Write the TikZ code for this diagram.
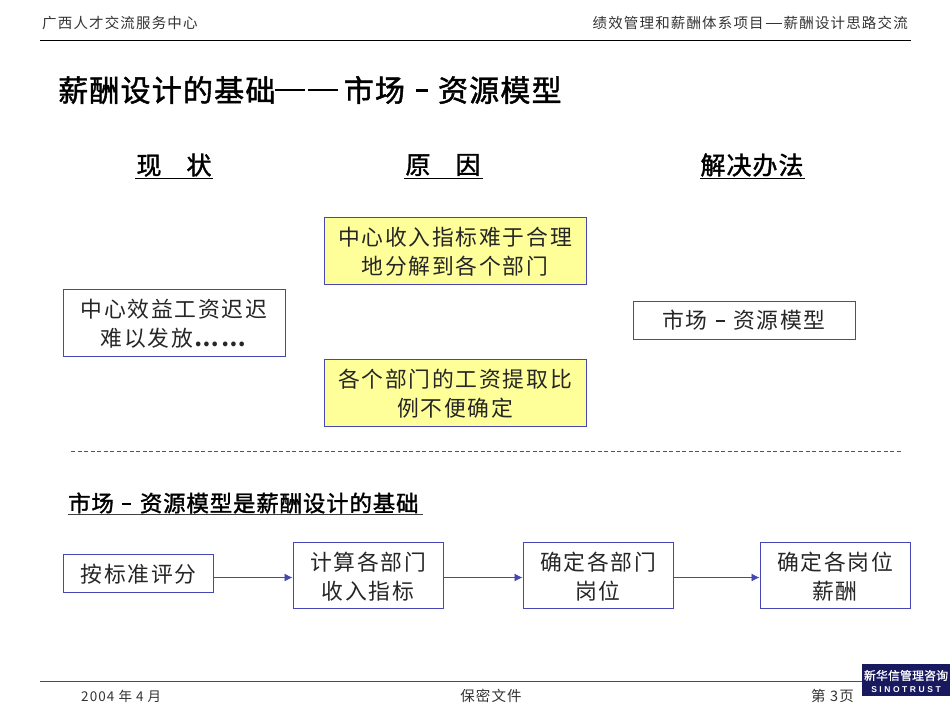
\documentclass[tikz,border=0pt]{standalone}
\usepackage{fontspec}
\setmainfont{Liberation Serif}
\newfontfamily\cjk[LetterSpace=8]{Noto Sans CJK SC}
\newfontfamily\cjkbold[LetterSpace=4,FakeBold=1.5]{Noto Sans CJK SC}
\newfontfamily\logocjk[LetterSpace=2,FakeBold=1]{Noto Sans CJK SC}
\newfontfamily\logolat[LetterSpace=30]{Liberation Sans}
\definecolor{boxblue}{RGB}{70,70,180}
\definecolor{noteyellow}{RGB}{255,255,153}
\definecolor{logonavy}{RGB}{25,25,95}
\usetikzlibrary{arrows.meta}
\newcommand{\midash}{\hspace{.38em}\rule[.30em]{.4em}{.09em}\hspace{.38em}}
\newcommand{\dn}[2]{\raisebox{-#1}[\height][\depth]{#2}}
\tikzset{
  bodybox/.style={draw=boxblue,line width=1pt,align=center,inner sep=0pt,font=\fontsize{21.8}{29}\cjk,text=black!85},
  yellowbox/.style={bodybox,fill=noteyellow},
  plain/.style={inner sep=0pt,font=\fontsize{14.5}{16}\cjk,text=black!80},
  head/.style={inner sep=0pt,font=\fontsize{25}{28}\cjkbold,text=black},
  flow/.style={draw=boxblue,line width=0.9pt,-{Latex[length=8pt,width=8pt]}},
}
\begin{document}
\begin{tikzpicture}[x=1pt,y=-1pt]
\useasboundingbox (0,0) rectangle (950,713);
\node[plain,anchor=west] (hl) at (42,23) {广西人才交流服务中心};
\node[plain,anchor=east] (hr) at (908,23) {绩效管理和薪酬体系项目\hspace{2pt}\rule[.32em]{1.1em}{.06em}\hspace{2pt}薪酬设计思路交流};
\coordinate (tl) at (40,40); \coordinate (tr) at (911,40);
\draw[line width=0.8pt] (tl) -- (tr);
\node[inner sep=0pt,anchor=west,font=\fontsize{30}{34}\cjkbold] (title) at (58,90) {薪酬设计的基础\rule[.34em]{1em}{.09em}\hspace{.1em}\rule[.34em]{1em}{.09em}\hspace{.18em}市场\hspace{.35em}\rule[.30em]{.4em}{.11em}\hspace{.35em}资源模型};
\node[head] (h1) at (174,165) {现\hspace{1em}状};
\node[head] (h2) at (443,165) {原\hspace{1em}因};
\node[head] (h3) at (752,165) {解决办法};
\draw[line width=0.9pt] (135,178) -- (213,178) (404,178) -- (483,178) (700,178) -- (805,178);
\node[yellowbox,minimum width=262,minimum height=67] (b1) at (455,251) {\dn{1pt}{中心收入指标难于合理}\\\dn{1pt}{地分解到各个部门}};
\node[yellowbox,minimum width=262,minimum height=67] (b2) at (455,393) {\dn{1pt}{各个部门的工资提取比}\\\dn{1pt}{例不便确定}};
\node[bodybox,minimum width=222,minimum height=67] (a) at (174,323) {\dn{1pt}{中心效益工资迟迟}\\\dn{1pt}{难以发放\textbf{……}}};
\node[bodybox,minimum width=222,minimum height=38] (c) at (744,320) {市场\midash 资源模型};
\coordinate (dl) at (71,451); \coordinate (dr) at (902,451);
\draw[boxblue,line width=0.8pt,dash pattern=on 4pt off 2.5pt] (dl) -- (dr);
\node[inner sep=0pt,anchor=west,font=\fontsize{22.4}{26}\cjkbold] (sub) at (68,503) {市场\midash 资源模型是薪酬设计的基础};
\draw[line width=0.9pt,black!75] (68,514.5) -- (423,514.5);
\node[bodybox,minimum width=150,minimum height=38] (s1) at (138.5,573) {\dn{1pt}{按标准评分}};
\node[bodybox,minimum width=150,minimum height=66] (s2) at (368,575) {\dn{2pt}{计算各部门}\\\dn{2pt}{收入指标}};
\node[bodybox,minimum width=150,minimum height=66] (s3) at (598,575) {\dn{2pt}{确定各部门}\\\dn{2pt}{岗位}};
\node[bodybox,minimum width=150,minimum height=66] (s4) at (835,575) {\dn{2pt}{确定各岗位}\\\dn{2pt}{薪酬}};
\draw[flow] (s1.east |- 0,577.5) -- (s2.west |- 0,577.5);
\draw[flow] (s2.east |- 0,577.5) -- (s3.west |- 0,577.5);
\draw[flow] (s3.east |- 0,577.5) -- (s4.west |- 0,577.5);
\coordinate (fl) at (40,681); \coordinate (fr) at (862,681);
\draw[line width=0.8pt,black!70] (fl) -- (fr);
\node[plain,anchor=west,font=\fontsize{13.5}{16}\cjk] (f1) at (81,696) {2004 年 4 月};
\node[plain] (f2) at (491,696) {保密文件};
\node[plain,anchor=west] (f3) at (811,696) {第 3页};
\node[fill=logonavy,minimum width=88,minimum height=32,inner sep=0pt,anchor=north west] (logo) at (862,664) {};
\node[inner sep=0pt,text=white,font=\fontsize{11.8}{12}\logocjk] (l1) at (906,675.5) {新华信管理咨询};
\node[inner sep=0pt,text=white,font=\fontsize{8.5}{9}\logolat\bfseries] (l2) at (906,689.5) {SINOTRUST};
\end{tikzpicture}
\end{document}
